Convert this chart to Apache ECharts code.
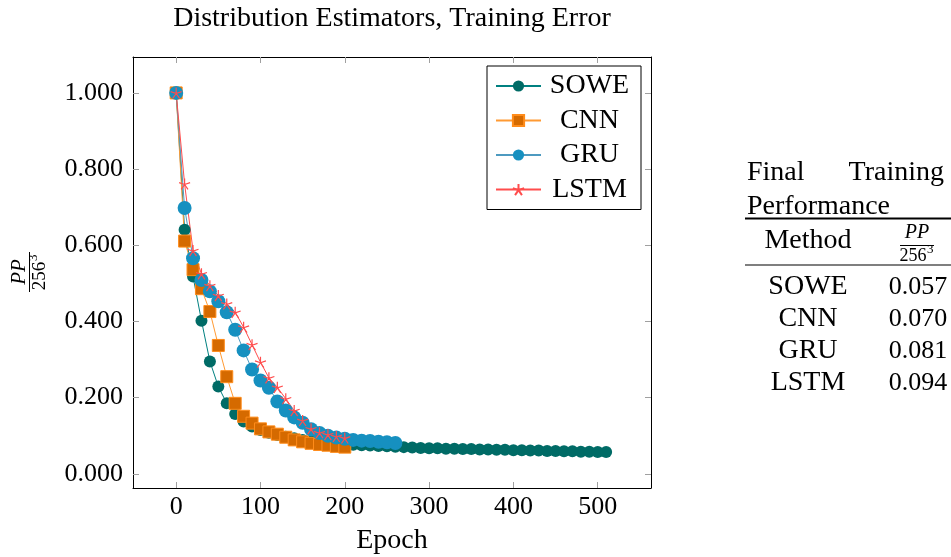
<!DOCTYPE html>
<html>
<head>
<meta charset="utf-8">
<script src="https://cdn.jsdelivr.net/npm/echarts@6/dist/echarts.min.js"></script>
<style>
html,body{margin:0;padding:0;background:#fff;}
#chart{width:951px;height:557px;}
</style>
</head>
<body>
<div id="chart"></div>
<script>
// ---- data ----
const soweEpochs = [0,10,20,30,40,50,60,70,80,90,100,110,120,130,140,150,160,170,180,190,200,210,220,230,240,250,260,270,280,290,300,310,320,330,340,350,360,370,380,390,400,410,420,430,440,450,460,470,480,490,500,510];
const soweValues = [1.000,0.641,0.518,0.402,0.295,0.229,0.185,0.157,0.137,0.124,0.115,0.108,0.102,0.097,0.093,0.089,0.086,0.083,0.081,0.079,0.077,0.076,0.075,0.074,0.073,0.072,0.071,0.070,0.069,0.068,0.067,0.067,0.066,0.066,0.065,0.065,0.064,0.064,0.063,0.063,0.062,0.062,0.061,0.061,0.060,0.060,0.059,0.059,0.058,0.058,0.057,0.057];
const cnnEpochs = [0,10,20,30,40,50,60,70,80,90,100,110,120,130,140,150,160,170,180,190,200];
const cnnValues = [1.000,0.611,0.536,0.486,0.426,0.337,0.255,0.185,0.151,0.133,0.118,0.110,0.104,0.096,0.089,0.084,0.080,0.077,0.075,0.072,0.070];
const gruEpochs = [0,10,20,30,40,50,60,70,80,90,100,110,120,130,140,150,160,170,180,190,200,210,220,230,240,250,260];
const gruValues = [1.000,0.698,0.566,0.509,0.479,0.453,0.424,0.378,0.324,0.274,0.245,0.226,0.190,0.166,0.148,0.134,0.117,0.107,0.100,0.095,0.092,0.089,0.087,0.086,0.084,0.083,0.081];
const lstmEpochs = [0,10,20,30,40,50,60,70,80,90,100,110,120,130,140,150,160,170,180,190,200];
const lstmValues = [1.000,0.761,0.586,0.525,0.494,0.468,0.446,0.424,0.385,0.339,0.293,0.252,0.227,0.197,0.166,0.140,0.118,0.108,0.103,0.098,0.094];

const xTicks = [0,100,200,300,400,500];
const yTicks = [0,0.2,0.4,0.6,0.8,1.0];

const tableMethods = ['SOWE','CNN','GRU','LSTM'];
const tableValues = ['0.057','0.070','0.081','0.094'];

const titleText = 'Distribution Estimators, Training Error';
const xName = 'Epoch';

// ---- build ----
const FONT = 'Liberation Serif';
const FS = 26;      // digits
const FT = 28;      // words
function pairs(xs, ys){ return xs.map((x,i)=>[x, ys[i]]); }
const starPath = 'path://M10,10 L10,0 M10,10 L19.51,6.91 M10,10 L15.88,18.09 M10,10 L4.12,18.09 M10,10 L0.49,6.91';

const xMin = -51.2, xMax = 563.2, yMin = -0.0373, yMax = 1.0943;

const axisLineStyle = {show:true, onZero:false, lineStyle:{color:'#000', width:1}};
const tickStyle = {show:true, inside:true, length:6, lineStyle:{color:'#a0a0a0', width:1}};

const chart = echarts.init(document.getElementById('chart'), null, {renderer:'canvas'});

function txt(x, y, s, align, size, extra){
  return {type:'text', x:x, y:y, style:{text:s, font:`${extra||''} ${size}px "${FONT}"`.trim(), fill:'#000', textAlign:align, textVerticalAlign:'middle'}};
}

const tableGraphics = [];
const tx = 808, tv = 917;
tableGraphics.push(txt(747, 173, 'Final', 'left', FT));
tableGraphics.push(txt(944, 173, 'Training', 'right', FT));
tableGraphics.push(txt(747, 207, 'Performance', 'left', FT));
tableGraphics.push({type:'line', shape:{x1:745, y1:218.5, x2:951, y2:218.5}, style:{stroke:'#000', lineWidth:2}});
tableGraphics.push(txt(tx, 241, 'Method', 'center', FT));
tableGraphics.push(txt(tv, 233, 'PP', 'center', 20, 'italic'));
tableGraphics.push({type:'line', shape:{x1:900, y1:245.5, x2:934, y2:245.5}, style:{stroke:'#000', lineWidth:1}});
tableGraphics.push(txt(tv-4, 256, '256', 'center', 18));
tableGraphics.push(txt(tv+10, 250, '3', 'left', 13));
tableGraphics.push({type:'line', shape:{x1:745, y1:265, x2:951, y2:265}, style:{stroke:'#000', lineWidth:1.2}});
tableMethods.forEach((m,i)=>{
  const y = 287 + i*32;
  tableGraphics.push(txt(tx, y, m, 'center', FT));
  tableGraphics.push(txt(tv+1, y, tableValues[i], 'center', FS));
});

const option = {
  backgroundColor:'#fff',
  animation:false,
  grid:{left:133, top:57, width:518, height:431, containLabel:false},
  xAxis:[
    {type:'value', min:xMin, max:xMax, position:'bottom',
     axisLine:axisLineStyle, axisTick:Object.assign({customValues:xTicks}, tickStyle),
     axisLabel:{customValues:xTicks, margin:6, color:'#000', fontFamily:FONT, fontSize:FS, formatter:v=>String(Math.round(v))},
     splitLine:{show:false}},
    {type:'value', min:xMin, max:xMax, position:'top',
     axisLine:axisLineStyle, axisTick:Object.assign({customValues:xTicks}, tickStyle),
     axisLabel:{show:false}, splitLine:{show:false}}
  ],
  yAxis:[
    {type:'value', min:yMin, max:yMax, position:'left',
     axisLine:axisLineStyle, axisTick:Object.assign({customValues:yTicks}, tickStyle),
     axisLabel:{customValues:yTicks, margin:10, color:'#000', fontFamily:FONT, fontSize:FS, formatter:v=>v.toFixed(3)},
     splitLine:{show:false}},
    {type:'value', min:yMin, max:yMax, position:'right',
     axisLine:axisLineStyle, axisTick:Object.assign({customValues:yTicks}, tickStyle),
     axisLabel:{show:false}, splitLine:{show:false}}
  ],
  legend:{
    orient:'vertical', left:487, top:66,
    backgroundColor:'#fff', borderColor:'#000', borderWidth:1, borderRadius:0,
    padding:[6,8,6,8], itemGap:6.5, itemWidth:45, itemHeight:14,
    formatter: name => `{c|${name}}`,
    textStyle:{fontFamily:FONT, fontSize:FT, color:'#000', lineHeight:26,
      rich:{c:{fontFamily:FONT, fontSize:FT, color:'#000', lineHeight:26, width:87, align:'center'}}},
    data:['SOWE','CNN','GRU','LSTM']
  },
  graphic:[
    txt(392, 19, titleText, 'center', FT),
    txt(392, 541, xName, 'center', FT),
    {type:'group', x:29, y:272, rotation:Math.PI/2, children:[
      txt(0, -10, 'PP', 'center', 21, 'italic'),
      {type:'line', shape:{x1:-20, y1:0.5, x2:20, y2:0.5}, style:{stroke:'#000', lineWidth:1}},
      txt(-4, 11, '256', 'center', 19),
      txt(11, 5, '3', 'left', 13)
    ]}
  ].concat(tableGraphics),
  series:[
    {name:'SOWE', type:'line', data:pairs(soweEpochs, soweValues), symbol:'circle', symbolSize:12,
     lineStyle:{color:'#008080', width:1}, itemStyle:{color:'#006b66', borderColor:'#006b66', borderWidth:0}},
    {name:'CNN', type:'line', data:pairs(cnnEpochs, cnnValues), symbol:'rect', symbolSize:12,
     lineStyle:{color:'#ff9a33', width:1}, itemStyle:{color:'#d56a00', borderColor:'#ff8c1a', borderWidth:1}},
    {name:'GRU', type:'line', data:pairs(gruEpochs, gruValues), symbol:'circle', symbolSize:14,
     lineStyle:{color:'#4d9ac0', width:1}, itemStyle:{color:'#1690c0', borderColor:'#1690c0', borderWidth:0}},
    {name:'LSTM', type:'line', data:pairs(lstmEpochs, lstmValues), symbol:starPath, symbolSize:11,
     lineStyle:{color:'#ff4d4d', width:1}, itemStyle:{color:'rgba(0,0,0,0)', borderColor:'#ff4d4d', borderWidth:1.2}}
  ]
};
chart.setOption(option);
</script>
</body>
</html>
